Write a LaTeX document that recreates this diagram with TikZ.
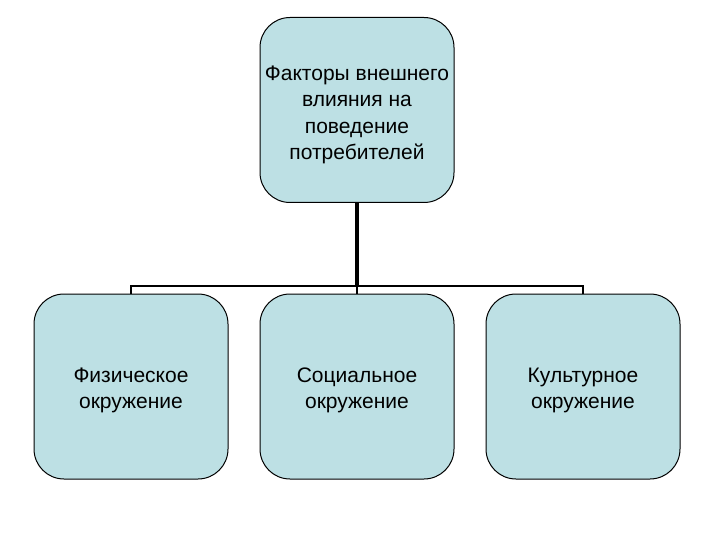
\documentclass[tikz,border=0pt]{standalone}
\usepackage{fontspec}
\setmainfont{Liberation Sans}
\definecolor{boxfill}{RGB}{189,224,228}
\begin{document}
\begin{tikzpicture}[x=1pt,y=-1pt,
  factorbox/.style={draw=black,line width=1pt,fill=boxfill,rounded corners=30pt,
    minimum width=194pt,minimum height=185pt,inner sep=0pt,align=center,
    font=\fontsize{21}{26.5}\selectfont},
  treeline/.style={draw=black,line width=2pt}]
\useasboundingbox (0,0) rectangle (720,540);
\node[factorbox,text height=104.5pt,text depth=5pt] (top) at (357,110) {Факторы внешнего\\влияния на\\поведение\\потребителей};
\node[factorbox,text height=49.5pt,text depth=5pt] (phys) at (131,386.5) {Физическое\\окружение};
\node[factorbox,text height=49.5pt,text depth=5pt] (soc) at (357,386.5) {Социальное\\окружение};
\node[factorbox,text height=49.5pt,text depth=5pt] (cult) at (583,386.5) {Культурное\\окружение};
\coordinate (bus) at (357,286);
\draw[treeline,line width=3.5pt] (top.south) -- (bus);
\draw[treeline] (phys.north) -- (phys.north |- bus) -- (cult.north |- bus) -- (cult.north);
\draw[treeline] (bus) -- (soc.north);
\end{tikzpicture}
\end{document}
